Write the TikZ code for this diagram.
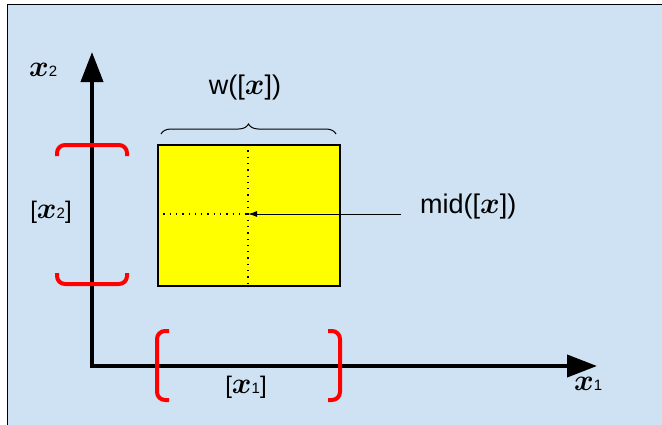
\documentclass[tikz,border=0pt]{standalone}
\usepackage{amsmath,bm}
\usepackage{fontspec}
\setmainfont{Liberation Sans}
\usetikzlibrary{arrows.meta,decorations.pathreplacing}
\definecolor{bgblue}{RGB}{207,226,243}
\definecolor{boxyellow}{RGB}{255,255,0}
\definecolor{bred}{RGB}{255,0,0}
\newcommand{\bx}{\scalebox{1.2}{$\bm{x}$}}
\newcommand{\subsc}[1]{{\fontsize{15}{17}\selectfont #1}}
\begin{document}
\begin{tikzpicture}[x=1pt,y=-1pt,
  lbl/.style={inner sep=0pt,font=\fontsize{27}{32}\selectfont},
  axis/.style={line width=4pt,-{Triangle[length=30pt,width=22pt]}},
  redbr/.style={draw=bred,line width=4pt,rounded corners=8pt},
  dots/.style={line width=1.3pt,dash pattern=on 1.3pt off 5pt}]
\useasboundingbox (0,0) rectangle (662,424);
\fill[white] (0,0) rectangle (662,424);
\draw[fill=bgblue,line width=1.5pt] (7.5,4.5) rectangle (670,430);
% yellow box
\node[draw=black,fill=boxyellow,line width=1.5pt,minimum width=182pt,minimum height=141pt,inner sep=0pt,anchor=north west] (box) at (157,144) {};
\coordinate (ctr) at (248,214);
\draw[dots] (box.north -| ctr) -- (box.south -| ctr);
\draw[dots] (box.west |- ctr) -- (ctr);
% axes
\coordinate (o) at (92,366);
\coordinate (ytip) at (92,52);
\coordinate (xtip) at (597,366);
\draw[axis] (o) -- (ytip);
\draw[axis] ([xshift=-2pt]o) -- (xtip);
% axis labels
\node[lbl,anchor=south west] (lx2) at (29,77) {\bx\subsc{2}};
\node[lbl,anchor=south west] (lx1) at (574,391) {\bx\subsc{1}};
% red brackets
\draw[redbr] (57,156) -- (57,145) -- (127,145) -- (127,156);
\draw[redbr] (57,273) -- (57,284) -- (127,284) -- (127,273);
\draw[redbr] (169,331) -- (157,331) -- (157,400) -- (169,400);
\draw[redbr] (328,331) -- (340,331) -- (340,400) -- (328,400);
% interval labels
\node[lbl,font=\fontsize{24}{29}\selectfont] (lix2) at (51,212) {[\bx\subsc{2}]};
\node[lbl,font=\fontsize{24}{29}\selectfont] (lix1) at (246,387) {[\bx\subsc{1}]};
% brace
\draw[decorate,decoration={brace,amplitude=10pt},line width=1pt] (161,134) -- (336,134) coordinate[midway] (bm);
\node[lbl] (w) at (245,88) {w([\bx])};
% mid
\node[lbl,anchor=west] (mid) at (420,207) {mid([\bx])};
\coordinate (ms) at (401,214);
\draw[line width=1pt,-{Latex[length=9pt,width=6pt]}] (ms) -- (ctr);
\end{tikzpicture}
\end{document}
